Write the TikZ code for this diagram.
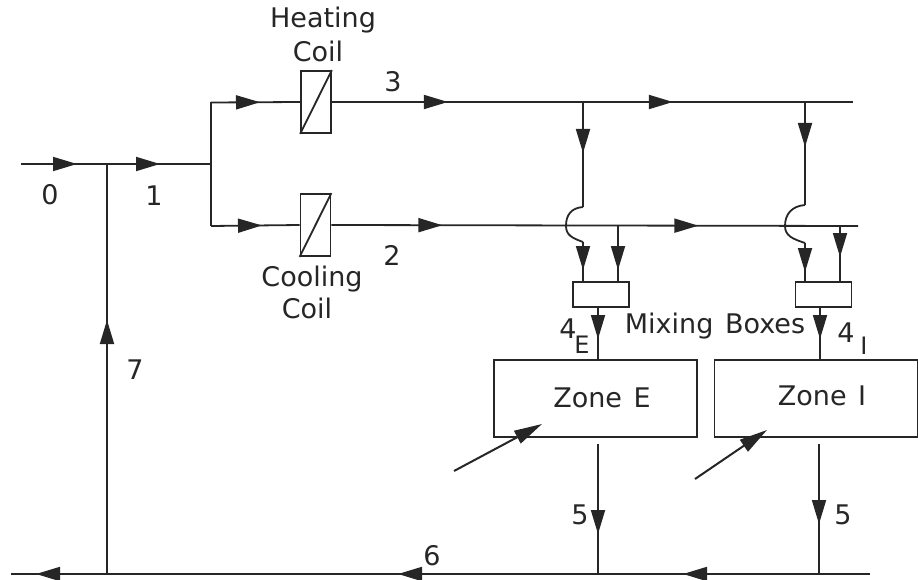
\documentclass[tikz,border=0pt]{standalone}
\usepackage{fontspec}
\setmainfont{DejaVu Sans}
\usetikzlibrary{arrows.meta,decorations.markings}
\tikzset{
  lineink/.style={line width=1.8pt,draw=black!85},
  flowat/.style={postaction={decorate,decoration={markings,mark=at position #1 with {\arrow{Triangle[length=24pt,width=14pt]}}}}},
  boxnode/.style={draw=black!85,line width=1.8pt,inner sep=0pt,fill=white},
  coilbox/.style={boxnode,minimum width=30pt,minimum height=62pt},
  mixbox/.style={boxnode,minimum width=56pt,minimum height=25pt},
  zonebox/.style={boxnode,minimum width=203pt,minimum height=77pt},
  lab/.style={inner sep=0pt,text=black!85,font=\fontsize{27}{27}\selectfont},
  sublab/.style={lab,font=\fontsize{24}{24}\selectfont},
  feed/.style={line width=2pt,draw=black!85,-{Triangle[length=28pt,width=14pt]}}
}
\begin{document}
\begin{tikzpicture}[x=1pt,y=-1pt]
\useasboundingbox (0,0) rectangle (918,580);
% nodes
\node[coilbox] (heat) at (316,102) {};
\node[coilbox] (cool) at (315.5,225) {};
\node[mixbox] (mixE) at (601,294.5) {};
\node[mixbox] (mixI) at (823.5,294.5) {};
\node[zonebox] (zoneE) at (595.5,398.5) {};
\node[zonebox] (zoneI) at (816,398.5) {};
% coordinates
\coordinate (in) at (21,164);
\coordinate (tee) at (107,164);
\coordinate (split) at (211,164);
\coordinate (upL) at (211,102.5);
\coordinate (loL) at (211,226);
\coordinate (upR) at (853,102);
\coordinate (loR) at (858,226);
\coordinate (upE) at (583,102);
\coordinate (upI) at (805,102);
\coordinate (bumpEa) at (583,207);
\coordinate (bumpEm) at (566,226);
\coordinate (bumpEb) at (583,242);
\coordinate (bumpIa) at (805,205);
\coordinate (bumpIm) at (785,226);
\coordinate (bumpIb) at (805,243);
\coordinate (downE) at (583,282);
\coordinate (downI) at (805,282);
\coordinate (loE) at (618,226);
\coordinate (loI) at (840,226);
\coordinate (inE2) at (618,282);
\coordinate (inI2) at (840,282);
\coordinate (outE) at (598,307);
\coordinate (outI) at (820,307);
\coordinate (zinE) at (598,360);
\coordinate (zinI) at (820,360);
\coordinate (zoutE) at (598,444);
\coordinate (zoutI) at (819,444);
\coordinate (retE) at (598,574);
\coordinate (retI) at (819,574);
\coordinate (retR) at (870,574);
\coordinate (retT) at (107,574);
\coordinate (retL) at (11,574);
\coordinate (qEa) at (454,471);
\coordinate (qEb) at (542,424);
\coordinate (qIa) at (695,479);
\coordinate (qIb) at (767,430);
% coil diagonals
\draw[lineink] (heat.south west) -- (heat.north east);
\draw[lineink] (cool.south west) -- (cool.north east);
% main line
\draw[lineink,flowat=56pt,flowat=139pt] (in) -- (split);
\draw[lineink] (upL) -- (loL);
\draw[lineink,flowat=49pt] (upL) -- (heat.west);
\draw[lineink,flowat=51pt] (loL) -- (cool.west);
\draw[lineink,flowat=116pt,flowat=341pt] (heat.east) -- (upR);
\draw[lineink,flowat=111pt,flowat=367pt] (cool.east) -- (loR);
% supply branches
\draw[lineink,flowat=51pt] (upE) -- (bumpEa);
\draw[lineink] (bumpEa) .. controls +(-12,1) and +(0,-11) .. (bumpEm) .. controls +(0,9) and +(-11,-4) .. (bumpEb);
\draw[lineink,flowat=28pt] (bumpEb) -- (downE);
\draw[lineink,flowat=45pt] (upI) -- (bumpIa);
\draw[lineink] (bumpIa) .. controls +(-13,1) and +(0,-12) .. (bumpIm) .. controls +(0,10) and +(-12,-4) .. (bumpIb);
\draw[lineink,flowat=29pt] (bumpIb) -- (downI);
\draw[lineink,flowat=44pt] (loE) -- (inE2);
\draw[lineink,flowat=31pt] (loI) -- (inI2);
% outlet of mixing boxes
\draw[lineink,flowat=32pt] (outE) -- (zinE);
\draw[lineink,flowat=32pt] (outI) -- (zinI);
% zone outlets
\draw[lineink,flowat=90pt] (zoutE) -- (retE);
\draw[lineink,flowat=80pt] (zoutI) -- (retI);
% return
\draw[lineink,flowat=187pt,flowat=472pt,flowat=834pt] (retR) -- (retL);
\draw[lineink,flowat=254pt] (retT) -- (tee);
% heat gain arrows
\draw[feed] (qEa) -- (qEb);
\draw[feed] (qIa) -- (qIb);
% labels
\node[lab] (lHeat) at (323,20) {Heating};
\node[lab] (lHeatC) at (318,51) {Coil};
\node[lab] (lCool) at (312,279) {Cooling};
\node[lab] (lCoolC) at (307,308) {Coil};
\node[lab] (l0) at (50,195) {0};
\node[lab] (l1) at (154,196) {1};
\node[lab] (l2) at (392,255) {2};
\node[lab] (l3) at (393,82) {3};
\node[lab] (l7) at (135,370) {7};
\node[lab] (l6) at (432,556) {6};
\node[lab] (l5a) at (580,515) {5};
\node[lab] (l5b) at (843,515) {5};
\node[lab] (lmix) at (715,326) {Mixing\hspace{3pt} Boxes};
\node[lab] (l4E) at (568,329) {4};
\node[sublab] (lE) at (582,345) {E};
\node[lab] (l4I) at (846,333) {4};
\node[sublab] (lI) at (864,346) {I};
\node[lab] (lzE) at (602,398) {Zone\hspace{3pt} E};
\node[lab] (lzI) at (822,396) {Zone\hspace{3pt} I};
\end{tikzpicture}
\end{document}
